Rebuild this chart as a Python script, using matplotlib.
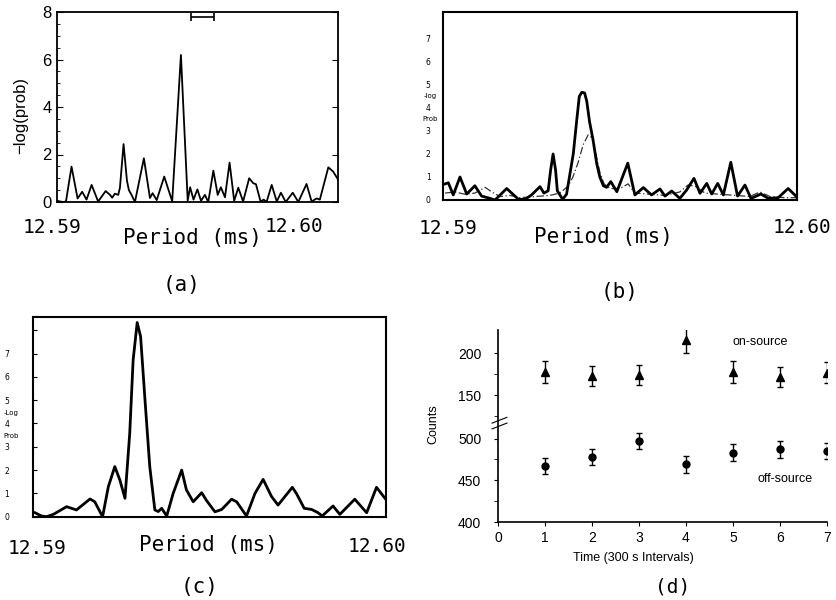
import matplotlib
matplotlib.use('Agg')
import matplotlib.pyplot as plt

W, H = 837, 600

# ---------------- data ----------------
# (a) period offset from 12.59 ms (microseconds) and -log(prob)
a_us = [0.21, 0.45, 0.58, 0.81, 1.06, 1.25, 1.43, 1.64, 1.91, 2.22, 2.40, 2.49, 2.60, 2.74, 2.81,
        2.96, 3.10, 3.18, 3.29, 3.43, 3.80, 4.05, 4.16, 4.33, 4.64, 4.97, 5.33, 5.61, 5.71, 5.85,
        6.01, 6.16, 6.32, 6.46, 6.67, 6.85, 6.98, 7.15, 7.34, 7.53, 7.70, 7.90, 8.15, 8.32, 8.43,
        8.62, 8.75, 8.87, 9.08, 9.29, 9.46, 9.66, 9.95, 10.18, 10.52, 10.73, 10.94, 11.07, 11.42,
        11.62, 11.82]
a_val = [0.05, 0.0, 0.02, 1.49, 0.15, 0.43, 0.1, 0.72, 0.02, 0.46, 0.3, 0.18, 0.35, 0.3, 0.6,
         2.44, 0.9, 0.5, 0.3, 0.0, 1.84, 0.17, 0.37, 0.08, 1.07, 0.03, 6.19, 0.06, 0.62, 0.1,
         0.53, 0.05, 0.3, 0.0, 1.32, 0.3, 0.62, 0.2, 1.66, 0.05, 0.6, 0.02, 1.0, 0.79, 0.75,
         0.02, 0.1, 0.0, 0.72, 0.02, 0.39, 0.0, 0.39, 0.0, 0.76, 0.02, 0.15, 0.1, 1.46,
         1.28, 0.95]
a_bar_center = 6.22
a_bar_half = 0.475
a_bar_level = 7.79

# (b) solid and dash-dot periodograms
b_us = [-0.08, 0.01, 0.15, 0.34, 0.53, 0.76, 0.95, 1.19, 1.33, 1.66, 1.99, 2.18, 2.36, 2.60, 2.71,
        2.83, 2.90, 2.97, 3.04, 3.09, 3.24, 3.35, 3.54, 3.64, 3.71, 3.78, 3.86, 3.92, 4.00, 4.10,
        4.20, 4.29, 4.39, 4.48, 4.60, 4.77, 5.08, 5.28, 5.52, 5.75, 5.99, 6.13, 6.32, 6.55, 6.74,
        6.95, 7.12, 7.31, 7.45, 7.62, 7.78, 7.99, 8.18, 8.39, 8.56, 8.84, 9.05, 9.33, 9.61, 9.83]
b_val = [0.7, 0.75, 0.22, 1.0, 0.26, 0.62, 0.17, 0.07, 0.0, 0.5, 0.03, 0.03, 0.22, 0.58, 0.3,
         0.4, 1.3, 2.0, 1.3, 0.4, 0.03, 0.25, 2.0, 3.5, 4.5, 4.68, 4.65, 4.3, 3.4, 2.6,
         1.6, 1.0, 0.62, 0.55, 0.8, 0.36, 1.6, 0.22, 0.54, 0.22, 0.48, 0.17, 0.39, 0.07, 0.43,
         0.94, 0.29, 0.72, 0.26, 0.72, 0.22, 1.64, 0.17, 0.65, 0.07, 0.26, 0.07, 0.1, 0.5, 0.17]
bd_us = [-0.08, 0.20, 0.48, 0.76, 1.05, 1.24, 1.47, 1.75, 2.03, 2.46, 2.88, 3.16, 3.39, 3.53, 3.67,
         3.82, 3.96, 4.07, 4.18, 4.29, 4.41, 4.58, 4.86, 5.09, 5.28, 5.71, 6.13, 6.55, 6.78, 6.98,
         7.26, 7.68, 8.11, 8.53, 8.81, 9.10, 9.52, 9.83]
bd_val = [0.3, 0.35, 0.25, 0.3, 0.55, 0.35, 0.15, 0.2, 0.1, 0.15, 0.2, 0.3, 0.6, 1.0, 1.6,
          2.4, 2.83, 2.7, 2.0, 1.2, 0.7, 0.5, 0.5, 0.7, 0.3, 0.25, 0.2, 0.35, 0.65, 0.6,
          0.3, 0.25, 0.2, 0.15, 0.35, 0.15, 0.1, 0.1]

# (c)
c_us = [-0.07, 0.12, 0.27, 0.47, 0.86, 1.15, 1.55, 1.69, 1.92, 2.09, 2.28, 2.43, 2.58, 2.72, 2.82,
        2.94, 3.04, 3.17, 3.31, 3.46, 3.56, 3.66, 3.81, 4.00, 4.25, 4.39, 4.59, 4.84, 4.98, 5.23,
        5.43, 5.72, 5.87, 6.16, 6.41, 6.65, 6.90, 7.09, 7.51, 7.63, 7.86, 8.08, 8.27, 8.39, 8.71,
        8.91, 9.35, 9.70, 9.99, 10.24]
c_val = [0.17, 0.03, 0.0, 0.1, 0.43, 0.29, 0.76, 0.64, 0.0, 1.29, 2.15, 1.57, 0.79, 3.58, 6.72,
         8.33, 7.73, 5.0, 2.15, 0.29, 0.22, 0.36, 0.03, 1.0, 2.0, 1.15, 0.64, 1.03, 0.7, 0.21,
         0.31, 0.75, 0.64, 0.03, 1.0, 1.6, 0.86, 0.5, 1.26, 1.0, 0.36, 0.31, 0.17, 0.03, 0.46,
         0.1, 0.75, 0.17, 1.26, 0.79]

# (d) counts per 300 s interval
d_x = [1, 2, 3, 4, 5, 6, 7]
on_counts = [178, 173, 174, 216, 178, 172, 177]
on_err = [13, 12, 12, 15, 13, 12, 13]
off_counts = [467, 478, 497, 469, 483, 487, 485]
off_err = [10, 10, 10, 10, 10, 10, 10]
d_tick_counts = [400, 450, 500, 150, 200]
d_minor_counts = [425, 475, 125, 175]

MONO = 'DejaVu Sans Mono'
SANS = 'Liberation Sans'


def box(l, t, r, b):
    return [l / W, 1 - b / H, (r - l) / W, (b - t) / H]


def ftxt(x, y, s, **kw):
    kw.setdefault('ha', 'center')
    kw.setdefault('va', 'center')
    fig.text(x / W, 1 - y / H, s, **kw)


def brk(c):
    # broken axis: lower block 400-500, upper block 125-225
    return c - 400 if c >= 300 else c + 2


fig = plt.figure(figsize=(W / 100, H / 100), dpi=100)
fig.patch.set_facecolor('white')

# ---------------- (a) ----------------
axa = fig.add_axes(box(57, 12, 338, 202))
axa.plot(a_us, a_val, color='k', lw=1.3, solid_joinstyle='round')
axa.errorbar([a_bar_center], [a_bar_level], xerr=[a_bar_half], fmt='none', ecolor='k',
             elinewidth=1.2, capsize=3, capthick=1.2)
axa.set_xlim(0.21, 11.82)
axa.set_ylim(0, 8)
axa.set_yticks([0, 2, 4, 6, 8])
axa.set_yticks([0.5 * i for i in range(17)], minor=True)
axa.set_xticks([])
axa.tick_params(axis='y', which='major', direction='in', length=4, right=True,
                labelsize=12, pad=4)
axa.tick_params(axis='y', which='minor', direction='in', length=2.5)
for lab in axa.get_yticklabels():
    lab.set_family(SANS)
for s in axa.spines.values():
    s.set_linewidth(1.3)
ftxt(21, 115, '\u2212log(prob)', rotation=90, fontsize=12, family=SANS)
ftxt(52, 227, '12.59', fontsize=14, family=MONO)
ftxt(294, 226, '12.60', fontsize=14, family=MONO)
ftxt(192, 238, 'Period (ms)', fontsize=15, family=MONO)
ftxt(182, 285, '(a)', fontsize=15, family=MONO)

# ---------------- (b) ----------------
axb = fig.add_axes(box(443, 12, 797, 200))
axb.plot(bd_us, bd_val, color='0.2', lw=0.9, ls=(0, (6, 2, 1, 2)))
axb.plot(b_us, b_val, color='k', lw=2.0, solid_joinstyle='round')
axb.set_xlim(-0.14, 9.86)
axb.set_ylim(0, 8.17)
axb.set_xticks([])
axb.set_yticks(range(8))
axb.tick_params(axis='y', direction='in', length=0, labelsize=5.5, pad=9)
for s in axb.spines.values():
    s.set_linewidth(1.5)
axb.text(-0.037, 4.5, '-log', transform=axb.get_yaxis_transform(), fontsize=5,
         ha='center', va='center')
axb.text(-0.037, 3.5, 'Prob', transform=axb.get_yaxis_transform(), fontsize=5,
         ha='center', va='center')
ftxt(448, 229, '12.59', fontsize=14, family=MONO)
ftxt(802, 227, '12.60', fontsize=14, family=MONO)
ftxt(603, 237, 'Period (ms)', fontsize=15, family=MONO)
ftxt(620, 292, '(b)', fontsize=15, family=MONO)

# ---------------- (c) ----------------
axc = fig.add_axes(box(33, 316.7, 386, 516.7))
axc.plot(c_us, c_val, color='k', lw=2.0, solid_joinstyle='round')
axc.set_xlim(-0.13, 10.27)
axc.set_ylim(0, 8.58)
axc.set_xticks([])
axc.set_yticks(range(9))
axc.set_yticklabels([str(i) for i in range(8)] + [''])
axc.tick_params(axis='y', direction='in', length=3, labelsize=5.5, pad=17)
for s in axc.spines.values():
    s.set_linewidth(1.5)
axc.text(-0.062, 4.45, '-Log', transform=axc.get_yaxis_transform(), fontsize=5,
         ha='center', va='center')
axc.text(-0.062, 3.45, 'Prob', transform=axc.get_yaxis_transform(), fontsize=5,
         ha='center', va='center')
ftxt(37, 548, '12.59', fontsize=14, family=MONO)
ftxt(377, 547, '12.60', fontsize=14, family=MONO)
ftxt(208, 545, 'Period (ms)', fontsize=15, family=MONO)
ftxt(200, 587, '(c)', fontsize=15, family=MONO)

# ---------------- (d) ----------------
axd = fig.add_axes(box(498, 330, 827, 522))
axd.errorbar(d_x, [brk(c) for c in on_counts], yerr=on_err, fmt='^', color='k',
             ms=5.5, elinewidth=1.0, capsize=2.5, capthick=1.0)
axd.errorbar(d_x, [brk(c) for c in off_counts], yerr=off_err, fmt='o', color='k',
             ms=5, elinewidth=1.0, capsize=2.5, capthick=1.0)
axd.set_xlim(0, 7)
axd.set_ylim(0, 230)
axd.set_xticks(range(8))
axd.set_yticks([brk(c) for c in d_tick_counts])
axd.set_yticklabels([str(c) for c in d_tick_counts])
axd.set_yticks([brk(c) for c in d_minor_counts], minor=True)
axd.tick_params(axis='both', which='major', direction='out', length=3, labelsize=10)
axd.tick_params(axis='y', which='minor', direction='out', length=3)
axd.tick_params(axis='y', pad=9)
for lab in axd.get_xticklabels() + axd.get_yticklabels():
    lab.set_family(SANS)
axd.spines['top'].set_visible(False)
axd.spines['right'].set_visible(False)
for s in ('left', 'bottom'):
    axd.spines[s].set_linewidth(1.2)
# break marks on the y axis
for dy in (0.0, 0.03):
    axd.plot([-0.018, 0.027], [0.485 + dy, 0.515 + dy], transform=axd.transAxes,
             color='k', lw=0.8, clip_on=False)
ftxt(433, 424, 'Counts', rotation=90, fontsize=9, family=SANS)
ftxt(633, 558, 'Time (300 s Intervals)', fontsize=9, family=SANS)
ftxt(760, 342, 'on-source', fontsize=9, family=SANS)
ftxt(785, 479, 'off-source', fontsize=9, family=SANS)
ftxt(673, 587, '(d)', fontsize=14, family=MONO)

fig.savefig('out.png', dpi=100, facecolor='white')
